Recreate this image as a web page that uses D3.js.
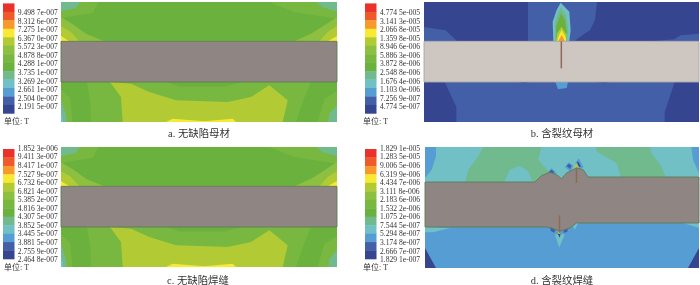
<!DOCTYPE html>
<html>
<head>
<meta charset="utf-8">
<script src="https://cdn.jsdelivr.net/npm/d3@7/dist/d3.min.js"></script>
<style>
  html, body { margin: 0; padding: 0; background: #fff; }
  svg { display: block; }
  text { fill: #333; }
  .lab { font: 7.6px "Liberation Serif", serif; }
  .unit { font: 8px "Liberation Serif", "Noto Sans CJK SC", serif; }
  .cap { font: 10.4px "Liberation Serif", "Noto Sans CJK SC", serif; text-anchor: middle; }
</style>
</head>
<body>
<svg></svg>
<script>
const WIDTH = 700;
const HEIGHT = 285;

// contour levels, top of the legend first
const levels = ['#e8322b', '#ef5a2a', '#f8992e', '#f8ea33', '#b2cb34', '#8dbf3f', '#79b83f', '#6ab23c',
  '#6fba8e', '#70c0c6', '#549dd2', '#435fa8', '#36448f'];

const labelsA = ['9.498 7e-007', '8.312 6e-007', '7.275 1e-007', '6.367 0e-007', '5.572 3e-007', '4.878 8e-007',
  '4.288 1e-007', '3.735 1e-007', '3.269 2e-007', '2.661 1e-007', '2.504 0e-007', '2.191 5e-007'];
const labelsB = ['4.774 5e-005', '3.141 3e-005', '2.066 8e-005', '1.359 8e-005', '8.946 6e-006', '5.886 3e-006',
  '3.872 8e-006', '2.548 8e-006', '1.676 4e-006', '1.103 0e-006', '7.256 9e-007', '4.774 5e-007'];
const labelsC = ['1.852 3e-006', '9.411 3e-007', '8.417 1e-007', '7.527 9e-007', '6.732 6e-007', '6.821 4e-007',
  '5.385 2e-007', '4.816 3e-007', '4.307 5e-007', '3.852 5e-007', '3.445 5e-007', '3.881 5e-007',
  '2.755 9e-007', '2.464 8e-007'];
const labelsD = ['1.829 1e-005', '1.283 5e-005', '9.006 5e-006', '6.319 9e-006', '4.434 7e-006', '3.111 8e-006',
  '2.183 6e-006', '1.532 2e-006', '1.075 2e-006', '7.544 5e-007', '5.294 8e-007', '3.174 8e-007',
  '2.666 7e-007', '1.829 1e-007'];

// field regions: [level index, outline], outline points in mesh units (x 0-828, y 0-360)
const fieldSound = [
  [7, [[0, 0], [828, 0], [828, 118], [0, 118]]],
  [6, [[0, 0], [112, 0], [95, 32], [0, 48]]],
  [8, [[0, 0], [58, 0], [44, 18], [0, 28]]],
  [6, [[828, 0], [625, 0], [700, 30], [828, 50]]],
  [8, [[828, 0], [765, 0], [785, 16], [828, 28]]],
  [5, [[0, 45], [40, 70], [75, 95], [130, 118], [0, 118]]],
  [4, [[0, 72], [30, 90], [55, 118], [0, 118]]],
  [3, [[0, 102], [25, 118], [0, 118]]],
  [5, [[828, 45], [790, 70], [750, 95], [700, 118], [828, 118]]],
  [4, [[828, 72], [800, 90], [775, 118], [828, 118]]],
  [3, [[828, 102], [800, 118], [828, 118]]],
  [7, [[0, 240], [828, 240], [828, 360], [0, 360]]],
  [6, [[78, 240], [750, 240], [725, 300], [705, 360], [90, 360], [88, 300]]],
  [4, [[147, 240], [210, 245], [265, 270], [345, 295], [500, 300], [570, 285], [625, 250], [680, 295], [665, 360], [185, 360], [180, 285]]],
  [7, [[320, 240], [355, 254], [490, 254], [540, 240]]],
  [6, [[0, 262], [28, 290], [34, 360], [0, 360]]],
  [8, [[0, 292], [13, 330], [18, 360], [0, 360]]],
  [9, [[0, 330], [5, 345], [6, 360], [0, 360]]],
  [6, [[828, 268], [790, 290], [770, 360], [828, 360]]],
  [8, [[828, 310], [805, 335], [802, 360], [828, 360]]],
  [3, [[315, 360], [335, 350], [430, 358], [515, 350], [525, 360]]]
];

const fieldCrackBase = [
  [12, [[0, 0], [825, 0], [825, 118], [0, 118]]],
  [11, [[0, 75], [65, 85], [100, 118], [0, 118]]],
  [11, [[312, 0], [519, 0], [513, 54], [498, 84], [459, 111], [453, 118], [312, 118]]],
  [11, [[680, 118], [750, 112], [770, 100], [825, 95], [825, 118]]],
  [9, [[410, 2], [436, 29], [440, 84], [436, 118], [388, 118], [386, 59], [398, 24]]],
  [8, [[410, 16], [426, 39], [433, 84], [428, 118], [393, 118], [393, 59], [403, 29]]],
  [7, [[411, 34], [423, 54], [428, 89], [423, 118], [398, 118], [396, 74]]],
  [4, [[413, 74], [428, 99], [426, 118], [396, 118], [400, 94]]],
  [3, [[413, 84], [426, 109], [426, 118], [400, 118], [404, 102]]],
  [2, [[413, 99], [423, 118], [403, 118]]],
  [11, [[0, 240], [825, 240], [825, 360], [0, 360]]],
  [12, [[0, 240], [62, 240], [97, 315], [97, 360], [0, 360]]],
  [12, [[825, 240], [752, 240], [722, 330], [722, 360], [825, 360]]],
  [10, [[394, 240], [432, 240], [428, 258], [402, 262]]],
  [12, [[280, 240], [320, 240], [300, 244]]],
  [12, [[515, 240], [560, 240], [538, 244]]]
];

const fieldCrackWeld = [
  [8, [[0, 0], [823, 0], [823, 110], [0, 110]]],
  [9, [[0, 0], [175, 0], [160, 28], [130, 68], [120, 110], [0, 110]]],
  [9, [[675, 0], [823, 0], [823, 95], [725, 95], [710, 58], [680, 18]]],
  [10, [[0, 0], [33, 0], [33, 28], [20, 68], [0, 93]]],
  [10, [[800, 0], [823, 0], [823, 78], [805, 38]]],
  [9, [[350, 0], [515, 0], [515, 13], [575, 48], [590, 95], [400, 105], [340, 38]]],
  [9, [[235, 110], [255, 68], [285, 56], [310, 73], [325, 110]]],
  [10, [[365, 80], [380, 64], [395, 78], [385, 92]]],
  [11, [[372, 74], [380, 68], [388, 74], [382, 82]]],
  [10, [[420, 60], [432, 46], [445, 56], [438, 74]]],
  [11, [[425, 57], [432, 50], [440, 55], [436, 66]]],
  [10, [[452, 48], [462, 34], [476, 60], [466, 68]]],
  [12, [[456, 44], [460, 44], [468, 58], [463, 60]]],
  [4, [[455, 48], [462, 62], [448, 62]]],
  [10, [[0, 222], [823, 222], [823, 363], [0, 363]]],
  [9, [[0, 240], [75, 243], [25, 256], [0, 256]]],
  [9, [[775, 228], [823, 228], [823, 243]]],
  [9, [[440, 228], [460, 228], [450, 248]]],
  [9, [[390, 262], [403, 302], [420, 262]]],
  [11, [[375, 236], [395, 240], [388, 257], [378, 252]]],
  [11, [[415, 240], [432, 235], [427, 255], [417, 257]]],
  [4, [[397, 253], [408, 253], [403, 263]]],
  [12, [[399, 261], [407, 261], [405, 272]]],
  [12, [[0, 303], [33, 363], [0, 363]]],
  [12, [[823, 303], [790, 363], [823, 363]]]
];

// steel plate outlines in the same mesh units
const plateStraight = [[0, 118], [828, 118], [828, 240], [0, 240]];
const plateCrackBase = [[0, 118], [825, 118], [825, 240], [0, 240]];
const plateWeld = [[0, 105], [330, 105], [350, 86], [375, 76], [395, 83], [410, 95], [425, 78], [455, 63], [475, 68], [490, 90],
  [823, 90], [823, 228], [455, 228], [435, 243], [405, 253], [380, 243], [365, 240], [0, 240]];

const cracksB = [[[412, 118], [412, 199]]];
const cracksD = [[[455, 62], [455, 108]], [[404, 205], [404, 257]]];

const panels = [
  { caption: 'a. 无缺陷母材', labels: labelsA, field: fieldSound, plate: plateStraight, plateColor: '#8f8583', edge: '#5f7c55', cracks: [], mesh: [828, 360],
    box: [61, 2, 337, 122], legendX: 3, legendY: [3.4, 113.4], labelX: 17.7, labelY: 12.6, unitX: 4, unitY: 124, capX: 199, capY: 137 },
  { caption: 'b. 含裂纹母材', labels: labelsB, field: fieldCrackBase, plate: plateCrackBase, plateColor: '#cdc6c1', edge: '#a9a7ac', cracks: cracksB, mesh: [825, 360],
    box: [424, 2, 699, 122], legendX: 365, legendY: [3.4, 113.4], labelX: 380, labelY: 12.6, unitX: 363, unitY: 124, capX: 562, capY: 137 },
  { caption: 'c. 无缺陷焊缝', labels: labelsC, field: fieldSound, plate: plateStraight, plateColor: '#8f8583', edge: '#5f7c55', cracks: [], mesh: [828, 360],
    box: [61, 147, 337, 267], legendX: 3, legendY: [149, 259], labelX: 17.7, labelY: 148.4, unitX: 4, unitY: 270, capX: 198, capY: 284 },
  { caption: 'd. 含裂纹焊缝', labels: labelsD, field: fieldCrackWeld, plate: plateWeld, plateColor: '#8f8583', edge: '#5f7c55', cracks: cracksD, mesh: [823, 363],
    box: [425, 147, 699, 268], legendX: 365, legendY: [149, 259], labelX: 380, labelY: 148.4, unitX: 363, unitY: 270, capX: 562, capY: 284 }
];

const LABEL_STEP = 8.55;

const svg = d3.select('svg')
    .attr('width', WIDTH)
    .attr('height', HEIGHT);

const defs = svg.append('defs');
defs.append('filter').attr('id', 'soft')
    .attr('x', '-5%').attr('y', '-5%').attr('width', '110%').attr('height', '110%')
  .append('feGaussianBlur').attr('stdDeviation', 0.55);
defs.append('filter').attr('id', 'softText')
    .attr('x', '-5%').attr('y', '-20%').attr('width', '110%').attr('height', '140%')
  .append('feGaussianBlur').attr('stdDeviation', 0.22);

function drawPanel(p) {
  const [x0, y0, x1, y1] = p.box;
  const x = d3.scaleLinear().domain([0, p.mesh[0]]).range([x0, x1]);
  const y = d3.scaleLinear().domain([0, p.mesh[1]]).range([y0, y1]);
  const line = d3.line().x((d) => x(d[0])).y((d) => y(d[1]));
  const outline = (pts) => line(pts) + 'Z';

  const g = svg.append('g');

  const field = g.append('g').attr('filter', 'url(#soft)');
  field.selectAll('path.region')
    .data(p.field)
    .enter().append('path')
      .attr('class', 'region')
      .attr('d', (d) => outline(d[1]))
      .attr('fill', (d) => levels[d[0]]);
  field.append('path')
      .attr('d', outline(p.plate))
      .attr('fill', p.plateColor)
      .attr('stroke', p.edge)
      .attr('stroke-width', 0.9);
  field.selectAll('path.crack')
    .data(p.cracks)
    .enter().append('path')
      .attr('class', 'crack')
      .attr('d', (d) => line(d))
      .attr('stroke', '#8c6a58')
      .attr('stroke-width', 1.5)
      .attr('fill', 'none');

  // legend colour bar
  const band = d3.scaleBand()
      .domain(d3.range(levels.length))
      .range(p.legendY);
  g.append('g').attr('filter', 'url(#soft)')
    .selectAll('rect')
    .data(levels)
    .enter().append('rect')
      .attr('x', p.legendX)
      .attr('y', (d, i) => band(i))
      .attr('width', 11.5)
      .attr('height', band.bandwidth() + 0.3)
      .attr('fill', (d) => d);

  const text = g.append('g').attr('filter', 'url(#softText)');
  text.selectAll('text.lab')
    .data(p.labels)
    .enter().append('text')
      .attr('class', 'lab')
      .attr('x', p.labelX)
      .attr('y', (d, i) => p.labelY + i * LABEL_STEP)
      .attr('dy', '.33em')
      .text((d) => d);
  text.append('text')
      .attr('class', 'unit')
      .attr('x', p.unitX)
      .attr('y', p.unitY)
      .text('单位: T');
  text.append('text')
      .attr('class', 'cap')
      .attr('x', p.capX)
      .attr('y', p.capY)
      .text(p.caption);
}

panels.forEach(drawPanel);
</script>
</body>
</html>
